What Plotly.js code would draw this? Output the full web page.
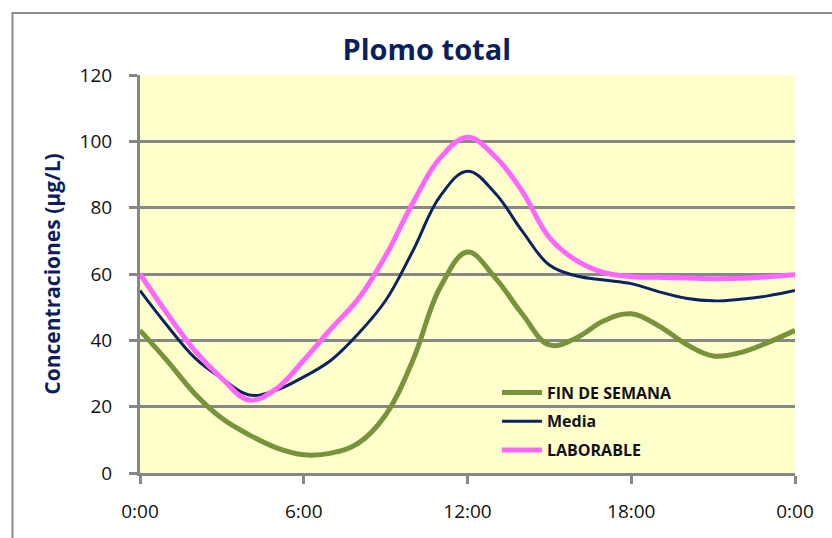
<!DOCTYPE html>
<html>
<head>
<meta charset="utf-8">
<script src="https://cdn.plot.ly/plotly-3.0.1.min.js"></script>
<style>
  html, body { margin: 0; padding: 0; background: #ffffff; }
  #chart { width: 832px; height: 538px; }
</style>
</head>
<body>
<div id="chart"></div>
<script>
// Hours of the day (0 = 0:00, 24 = next 0:00)
const hours = [0, 1, 2, 3, 4, 5, 6, 7, 8, 9, 10, 11, 12, 13, 14, 15, 16, 17, 18, 19, 20, 21, 22, 23, 24];

// Series values (µg/L)
const finDeSemana = [43, 33.8, 24, 16.5, 11.5, 7.6, 5.5, 6, 9, 17.5, 34, 56, 66.6, 59, 48, 38.6, 40.8, 45.9, 48, 44.4, 38.9, 35.3, 36.3, 39.3, 43];
const media       = [55, 44.4, 34.8, 28.5, 23.5, 25, 29, 34, 42, 52, 67, 83.5, 91, 84.5, 73, 62.7, 59.4, 58.2, 57.1, 54.7, 52.7, 51.9, 52.4, 53.4, 55];
const laborable   = [60, 48, 37, 28.5, 22, 25.4, 34, 43.5, 52.5, 65.5, 81.5, 95, 101.2, 95.5, 85, 71, 64, 60.4, 59.2, 59, 58.8, 58.6, 58.7, 59.2, 59.8];

// Tick labels
const xTickVals = [0, 6, 12, 18, 24];
const xTickText = ['0:00', '6:00', '12:00', '18:00', '0:00'];
const yTickVals = [0, 20, 40, 60, 80, 100, 120];

const seriesNames = ['FIN DE SEMANA', 'Media', 'LABORABLE'];

const traces = [
  { x: hours, y: finDeSemana, name: '<b>' + seriesNames[0] + '</b>', legendgroup: 'a', type: 'scatter', mode: 'lines',
    line: { color: '#77933C', width: 5, shape: 'spline', smoothing: 1.1 } },
  { x: hours, y: media, name: '<b>' + seriesNames[1] + '</b>', legendgroup: 'b', type: 'scatter', mode: 'lines',
    line: { color: '#0B2461', width: 3, shape: 'spline', smoothing: 1.1 } },
  { x: hours, y: laborable, name: '<b>' + seriesNames[2] + '</b>', legendgroup: 'c', type: 'scatter', mode: 'lines',
    line: { color: '#FF66FF', width: 5, shape: 'spline', smoothing: 1.1 } }
];

const gridGray = '#878787';
const tickFont = { family: '"Open Sans", sans-serif', size: 19, color: '#111111' };

const layout = {
  width: 832,
  height: 538,
  margin: { l: 140, r: 37, t: 75, b: 65, pad: 0 },
  paper_bgcolor: '#ffffff',
  plot_bgcolor: '#FFFFCC',
  showlegend: true,
  title: {
    text: '<b>Plomo total</b>',
    font: { family: '"Open Sans", sans-serif', size: 29, color: '#0B1F5E' },
    x: 0.513, xanchor: 'center', xref: 'container',
    y: 1 - 50 / 538, yanchor: 'middle', yref: 'container'
  },
  xaxis: {
    range: [0, 24],
    tickmode: 'array',
    tickvals: xTickVals,
    ticktext: xTickText,
    showgrid: false,
    zeroline: false,
    showline: true,
    linecolor: gridGray,
    linewidth: 3,
    ticks: 'outside',
    ticklen: 8,
    tickwidth: 3,
    tickcolor: gridGray,
    ticklabelstandoff: 11,
    tickfont: tickFont,
    fixedrange: true
  },
  yaxis: {
    range: [0, 120],
    tickmode: 'array',
    tickvals: yTickVals,
    showgrid: true,
    gridcolor: gridGray,
    gridwidth: 3,
    zeroline: false,
    showline: true,
    linecolor: gridGray,
    linewidth: 3,
    ticks: 'outside',
    ticklen: 8,
    tickwidth: 3,
    tickcolor: gridGray,
    ticklabelstandoff: 13,
    tickfont: tickFont,
    automargin: false,
    title: {
      text: '<b>Concentraciones (µg/L)</b>',
      font: { family: '"Open Sans", sans-serif', size: 21, color: '#0B1F5E' },
      standoff: 14
    },
    fixedrange: true
  },
  legend: {
    x: 0.545, xanchor: 'left',
    y: 0.245, yanchor: 'top',
    bgcolor: 'rgba(0,0,0,0)',
    borderwidth: 0,
    font: { family: '"Open Sans", sans-serif', size: 16, color: '#111111' },
    traceorder: 'grouped',
    tracegroupgap: 5,
    itemwidth: 40
  },
  shapes: [
    {
      type: 'path', xref: 'paper', yref: 'paper',
      path: 'M -0.1947 -0.2 L -0.1947 1.1558 L 1.1 1.1558',
      line: { color: '#8C8C8C', width: 2 }
    }
  ]
};

Plotly.newPlot('chart', traces, layout, { staticPlot: true, displayModeBar: false });
</script>
</body>
</html>
